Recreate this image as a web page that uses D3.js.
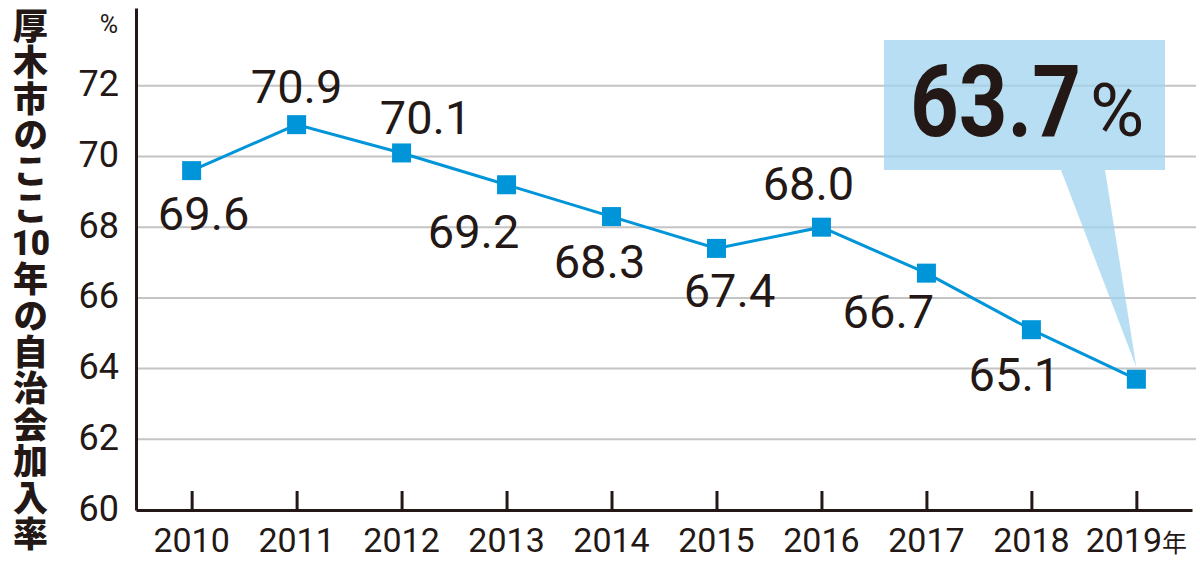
<!DOCTYPE html>
<html>
<head>
<meta charset="utf-8">
<script src="https://cdn.jsdelivr.net/npm/d3@7"></script>
<style>
  body { margin: 0; background: #fff; }
  #chart { position: relative; width: 1200px; height: 570px; }
  svg { display: block; }
  .ytitle {
    position: absolute;
    left: 11px;
    top: 8px;
    writing-mode: vertical-rl;
    text-orientation: upright;
    font-family: 'Noto Sans CJK JP', sans-serif;
    font-weight: 900;
    font-size: 35px;
    line-height: 38px;
    letter-spacing: 1.4px;
    color: #231815;
    white-space: nowrap;
  }
  .ytitle .tcy { text-combine-upright: all; font-family: Roboto, sans-serif; }
</style>
</head>
<body>
<div id="chart"></div>
<script>
// Data
const years = ["2010", "2011", "2012", "2013", "2014", "2015", "2016", "2017", "2018", "2019"];
const rates = [69.6, 70.9, 70.1, 69.2, 68.3, 67.4, 68.0, 66.7, 65.1, 63.7];
const yTicks = [60, 62, 64, 66, 68, 70, 72];
const titleParts = ["厚木市のここ", "10", "年の自治会加入率"];

// Where each value label sits relative to its marker (layout only)
const labelOffsets = [[12, 59], [0, -22], [24, -19], [-33, 63], [-12, 61], [13, 59], [-13, -27], [-38, 55], [-17, 61]];

const ink = "#231815";
const blue = "#0095d9";
const numFont = "Roboto, 'Noto Sans', sans-serif";

const width = 1200, height = 570;
const svg = d3.select("#chart")
    .append("svg")
    .attr("width", width)
    .attr("height", height);

// Scales
const xScale = d3.scalePoint()
    .domain(years)
    .range([136, 1192])
    .padding(0.53);

const yScale = d3.scaleLinear()
    .domain([60, 74.2])
    .range([510, 8]);

// Grid lines
svg.append("g")
    .selectAll("line")
    .data(yTicks.filter(d => d > 60))
    .join("line")
    .attr("x1", 136)
    .attr("x2", 1196)
    .attr("y1", d => yScale(d))
    .attr("y2", d => yScale(d))
    .attr("stroke", "#c4c4c4")
    .attr("stroke-width", 2);

// Callout box for the latest value
const last = rates.length - 1;
const tipX = xScale(years[last]);
const tipY = yScale(rates[last]) - 12;
const callout = svg.append("g").attr("fill", "#9fd3ee").attr("fill-opacity", 0.75);
callout.append("rect")
    .attr("x", 884)
    .attr("y", 40)
    .attr("width", 281)
    .attr("height", 130);
callout.append("path")
    .attr("d", `M1061,170 L1105,170 L${tipX},${tipY} Z`);

// big value, squeezed a little to match the narrow print face
svg.append("text")
    .attr("transform", "translate(910,136) scale(0.85,1)")
    .attr("font-family", numFont)
    .attr("font-weight", "bold")
    .attr("font-size", 100)
    .attr("fill", ink)
    .text(rates[last].toFixed(1));

svg.append("text")
    .attr("x", 1090)
    .attr("y", 136)
    .attr("font-family", numFont)
    .attr("font-size", 74)
    .attr("fill", ink)
    .text("%");

// Line and markers
const line = d3.line()
    .x((d, i) => xScale(years[i]))
    .y(d => yScale(d));

svg.append("path")
    .datum(rates)
    .attr("d", line)
    .attr("fill", "none")
    .attr("stroke", blue)
    .attr("stroke-width", 3);

const size = 19;
svg.append("g")
    .selectAll("rect")
    .data(rates)
    .join("rect")
    .attr("x", (d, i) => xScale(years[i]) - size / 2)
    .attr("y", d => yScale(d) - size / 2)
    .attr("width", size)
    .attr("height", size)
    .attr("fill", blue);

// Value labels (all but the last, which is in the callout)
svg.append("g")
    .selectAll("text")
    .data(rates.slice(0, last))
    .join("text")
    .attr("x", (d, i) => xScale(years[i]) + labelOffsets[i][0])
    .attr("y", (d, i) => yScale(d) + labelOffsets[i][1])
    .attr("text-anchor", "middle")
    .attr("font-family", numFont)
    .attr("font-size", 47)
    .attr("fill", ink)
    .text(d => d.toFixed(1));

// Y axis
const yAxisGroup = svg.append("g")
    .attr("transform", "translate(136,0)")
    .call(d3.axisLeft(yScale).tickValues(yTicks).tickSize(0).tickPadding(17));
yAxisGroup.select(".domain").attr("stroke", ink).attr("stroke-width", 3);
yAxisGroup.selectAll("text")
    .attr("font-family", numFont)
    .attr("font-size", 36)
    .attr("fill", ink)
    .attr("dy", "0.28em");

// X axis
const xAxisGroup = svg.append("g")
    .attr("transform", "translate(0,510)")
    .call(d3.axisBottom(xScale).tickSize(-19).tickSizeOuter(0).tickPadding(0));
xAxisGroup.select(".domain").attr("stroke", ink).attr("stroke-width", 3);
xAxisGroup.selectAll("line").attr("stroke", ink).attr("stroke-width", 3);
xAxisGroup.selectAll("text").remove();

svg.append("g")
    .selectAll("text")
    .data(years)
    .join("text")
    .attr("x", d => xScale(d))
    .attr("y", 552)
    .attr("text-anchor", "middle")
    .attr("font-family", numFont)
    .attr("font-size", 34)
    .attr("fill", ink)
    .text(d => d)
    .filter((d, i) => i === last)
    .append("tspan")
    .attr("font-size", 25)
    .attr("font-family", "'Noto Sans CJK JP', sans-serif")
    .text("年");

// Unit label
svg.append("text")
    .attr("x", 118)
    .attr("y", 33)
    .attr("text-anchor", "end")
    .attr("font-family", numFont)
    .attr("font-size", 25)
    .attr("fill", ink)
    .text("%");

// Vertical y axis title (HTML so "10" can sit upright in one slot)
d3.select("#chart")
    .append("div")
    .attr("class", "ytitle")
    .selectAll("span")
    .data(titleParts)
    .join("span")
    .attr("class", d => /^\d+$/.test(d) ? "tcy" : null)
    .text(d => d);
</script>
</body>
</html>
